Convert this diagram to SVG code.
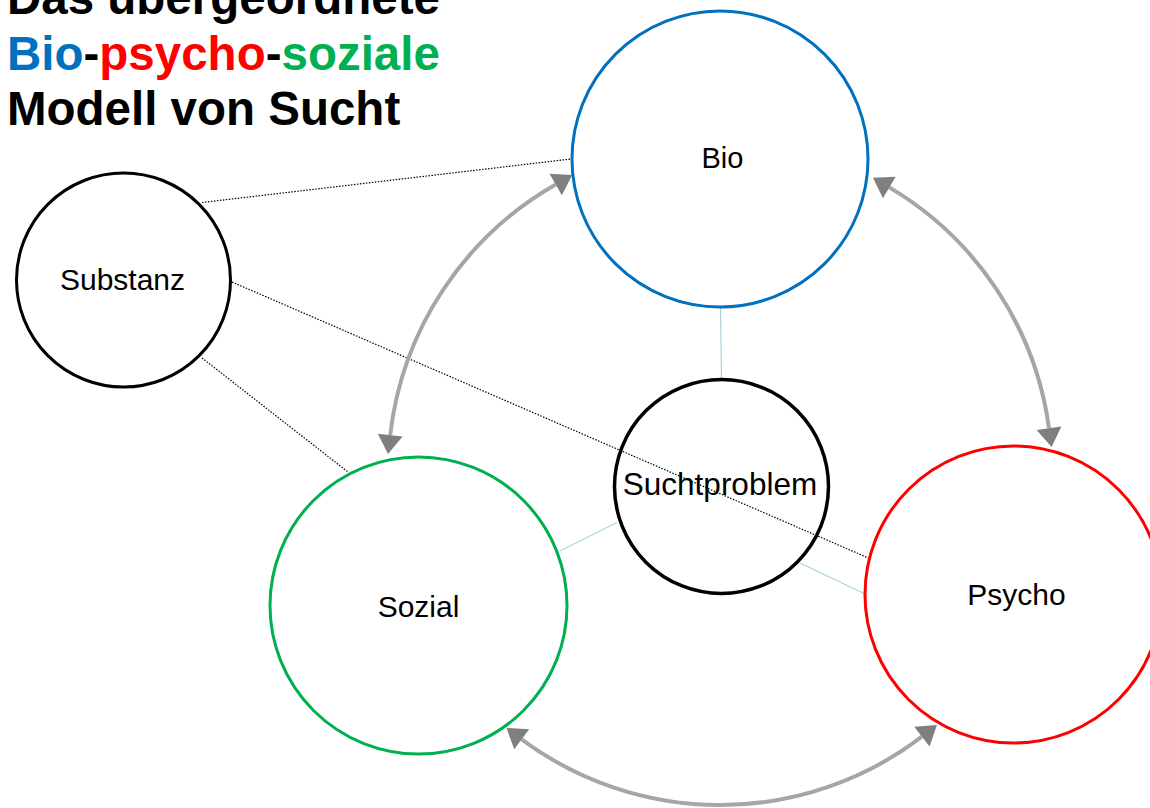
<svg xmlns="http://www.w3.org/2000/svg" width="1150" height="808" viewBox="0 0 1150 808">
  <style>
    .title { font-family: "Liberation Sans", Arial, sans-serif; font-weight: bold; font-size: 47.5px; }
    .label { font-family: "Liberation Sans", Arial, sans-serif; font-size: 30px; fill: #000; text-anchor: middle; }
    .node { fill: #fff; stroke-width: 3; }
    .link { stroke: #A8D3DC; stroke-width: 1.2; fill: none; }
    .dot { stroke: #000; stroke-width: 1.2; stroke-dasharray: 1.5 1.5; fill: none; }
    .arc { stroke: #A6A6A6; stroke-width: 4; fill: none; marker-start: url(#head); marker-end: url(#head); }
  </style>
  <defs>
    <marker id="head" markerUnits="userSpaceOnUse" markerWidth="22" markerHeight="26" refX="0" refY="12.5" viewBox="0 -0.5 20 26" orient="auto-start-reverse" overflow="visible">
      <path d="M0,0 L19,12.5 L0,25 Z" fill="#7F7F7F"/>
    </marker>
  </defs>

  <rect width="1150" height="808" fill="#fff"/>

  <!-- heading -->
  <g id="title" class="title">
    <text x="7" y="14" fill="#000">Das übergeordnete</text>
    <text x="7" y="70"><tspan fill="#0070C0">Bio</tspan><tspan fill="#000">-</tspan><tspan fill="#FF0000">psycho</tspan><tspan fill="#000">-</tspan><tspan fill="#00B050">soziale</tspan></text>
    <text x="7" y="125" fill="#000">Modell von Sucht</text>
  </g>

  <!-- connectors -->
  <g id="connectors">
    <line class="link" x1="720.5" y1="307" x2="721.5" y2="379"/>
    <line class="link" x1="560" y1="551" x2="617" y2="522.5"/>
    <line class="link" x1="800" y1="563" x2="864" y2="593.5"/>
    <line class="dot" x1="202" y1="202.5" x2="571" y2="159"/>
    <line class="dot" x1="232" y1="282" x2="873" y2="560"/>
    <line class="dot" x1="202" y1="358" x2="348" y2="472"/>
    <path class="arc" d="M555.7,184.5 A332,332 0 0 0 390.2,435.1"/>
    <path class="arc" d="M889.3,187.4 A332,332 0 0 1 1049,428.2"/>
    <path class="arc" d="M521.7,739.3 A332,332 0 0 0 921.9,736.6"/>
  </g>

  <g id="node-bio">
    <circle class="node" cx="720" cy="159" r="148" stroke="#0070C0" fill="none"/>
    <text class="label" x="722.5" y="168" style="font-size:29px">Bio</text>
  </g>

  <g id="node-substanz">
    <circle class="node" cx="123.5" cy="280" r="107" stroke="#000"/>
    <text class="label" x="122.5" y="290">Substanz</text>
  </g>

  <g id="node-suchtproblem">
    <circle cx="721.5" cy="486.5" r="107" stroke="#000" stroke-width="3.5" fill="none"/>
    <text class="label" x="720" y="495" style="font-size:31.5px">Suchtproblem</text>
  </g>

  <g id="node-sozial">
    <circle class="node" cx="418.5" cy="605.5" r="148.5" stroke="#00B050" fill="none"/>
    <text class="label" x="418.5" y="616.5">Sozial</text>
  </g>

  <g id="node-psycho">
    <circle class="node" cx="1013.5" cy="594.5" r="148.5" stroke="#FF0000" fill="none"/>
    <text class="label" x="1016.5" y="605">Psycho</text>
  </g>
</svg>
